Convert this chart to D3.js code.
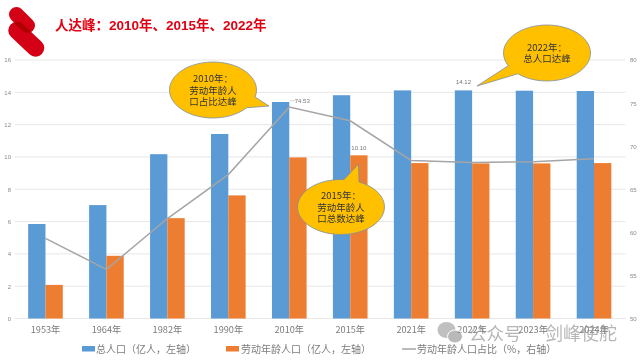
<!DOCTYPE html>
<html>
<head>
<meta charset="utf-8">
<script src="https://cdnjs.cloudflare.com/ajax/libs/d3/7.8.5/d3.min.js"></script>
<style>
  html, body { margin: 0; padding: 0; background: #fff; }
  svg { display: block; }
  text { font-family: "Noto Sans CJK SC", "Noto Sans", sans-serif; }
</style>
</head>
<body>
<div id="chart"></div>
<script>
const years = ['1953年', '1964年', '1982年', '1990年', '2010年', '2015年', '2021年', '2022年', '2023年', '2024年']
const totalPop = [5.85, 7.02, 10.17, 11.42, 13.40, 13.82, 14.12, 14.12, 14.10, 14.08]
const workPop = [2.08, 3.88, 6.21, 7.62, 9.97, 10.10, 9.62, 9.60, 9.60, 9.62]
const workShare = [59.3, 55.7, 61.6, 66.7, 74.53, 72.95, 68.35, 68.1, 68.2, 68.55]
const leftTicks = [0, 2, 4, 6, 8, 10, 12, 14, 16]
const rightTicks = [50, 55, 60, 65, 70, 75, 80]
const legendLabels = ['总人口（亿人，左轴）', '劳动年龄人口（亿人，左轴）', '劳动年龄人口占比（%，右轴）']

const width = 640, height = 360
const plotLeft = 15, plotRight = 624.5, plotTop = 60, plotBottom = 318.5

const svg = d3.select('#chart').append('svg').attr('width', width).attr('height', height)

const x = d3.scaleBand().domain(years).range([plotLeft, plotRight]).paddingInner(0.432).paddingOuter(0.216)
const xSeries = d3.scaleBand().domain(['total', 'work']).range([0, x.bandwidth()])
const y = d3.scaleLinear().domain([0, 16]).range([plotBottom, plotTop])
const yShare = d3.scaleLinear().domain([50, 80]).range([plotBottom, plotTop])

// 网格线
svg.append('g').selectAll('line').data(leftTicks).enter().append('line')
  .attr('x1', plotLeft).attr('x2', plotRight + 1)
  .attr('y1', d => y(d)).attr('y2', d => y(d))
  .attr('stroke', '#e7e7e7').attr('stroke-width', 1)

// 坐标轴
const axisLeft = svg.append('g').attr('transform', 'translate(11,0)')
  .call(d3.axisLeft(y).tickValues(leftTicks).tickSize(0).tickPadding(0))
const axisRight = svg.append('g').attr('transform', 'translate(630,0)')
  .call(d3.axisRight(yShare).tickValues(rightTicks).tickSize(0).tickPadding(0))
const axisBottom = svg.append('g').attr('transform', `translate(0,${plotBottom})`)
  .call(d3.axisBottom(x).tickSize(0).tickPadding(8))
axisLeft.select('.domain').remove()
axisRight.select('.domain').remove()
axisBottom.select('.domain').remove()
axisLeft.selectAll('text').attr('font-size', 6).attr('fill', '#8a8a8a').style('font-family', 'Liberation Sans')
axisRight.selectAll('text').attr('font-size', 6).attr('fill', '#8a8a8a').style('font-family', 'Liberation Sans')
axisBottom.selectAll('text').attr('font-size', 9.2).attr('fill', '#7b7b7b')

// 柱子
const bars = svg.append('g')
bars.selectAll('.total').data(totalPop).enter().append('rect')
  .attr('class', 'total')
  .attr('x', (d, i) => x(years[i]) + xSeries('total'))
  .attr('y', d => y(d))
  .attr('width', xSeries.bandwidth())
  .attr('height', d => plotBottom - y(d))
  .attr('fill', '#5b9bd5')
bars.selectAll('.work').data(workPop).enter().append('rect')
  .attr('class', 'work')
  .attr('x', (d, i) => x(years[i]) + xSeries('work'))
  .attr('y', d => y(d))
  .attr('width', xSeries.bandwidth())
  .attr('height', d => plotBottom - y(d))
  .attr('fill', '#ed7d31')

// 折线
const line = d3.line()
  .x((d, i) => x(years[i]) + x.bandwidth() / 2)
  .y(d => yShare(d))
svg.append('path').datum(workShare)
  .attr('d', line)
  .attr('fill', 'none')
  .attr('stroke', '#a5a5a5')
  .attr('stroke-width', 1.5)

// 数据标签
function dataLabel(str, px, py){
  svg.append('text').attr('x', px).attr('y', py)
    .attr('text-anchor', 'middle')
    .attr('font-size', 6).attr('fill', '#777')
    .style('font-family', 'Liberation Sans')
    .text(str)
}
const peakX = x('2010年') + x.bandwidth() / 2
svg.append('line')
  .attr('x1', peakX + 1).attr('x2', peakX + 6)
  .attr('y1', yShare(workShare[4]) - 6.5).attr('y2', yShare(workShare[4]) - 6.5)
  .attr('stroke', '#c8c8c8').attr('stroke-width', 0.7)
dataLabel(workShare[4].toFixed(2), peakX + 13, yShare(workShare[4]) - 4)
dataLabel(workPop[5].toFixed(2), x('2015年') + xSeries('work') + xSeries.bandwidth() / 2, y(workPop[5]) - 5)
dataLabel(totalPop[7].toFixed(2), x('2022年') + xSeries.bandwidth() / 2, y(totalPop[7]) - 6)

// 标注气泡，尾巴两端用椭圆上的角度来定
function callout(cx, cy, rx, ry, angA, tip, angB, lines){
  const onEllipse = deg => {
    const r = deg * Math.PI / 180
    return [cx + rx * Math.cos(r), cy + ry * Math.sin(r)]
  }
  const a = onEllipse(angA), b = onEllipse(angB)
  svg.append('path')
    .attr('d', `M${a} L${tip} L${b} A${rx},${ry} 0 1 1 ${a} Z`)
    .attr('fill', '#ffc000')
    .attr('stroke', '#7f8f9f')
    .attr('stroke-width', 0.8)
  lines.forEach((t, i) => {
    svg.append('text')
      .attr('x', cx).attr('y', cy + (i - (lines.length - 1) / 2) * 11.4 + 3.5)
      .attr('text-anchor', 'middle')
      .attr('font-size', 9.5).attr('fill', '#333')
      .text(t)
  })
}
callout(213, 90, 43.5, 28, 14.5, [269, 106], 39.5, ['2010年：', '劳动年龄人', '口占比达峰'])
callout(341, 207, 43.5, 27.5, -86, [358.5, 164], -65.5, ['2015年：', '劳动年龄人', '口总数达峰'])
callout(547, 53, 43.5, 28, 132, [477, 86], 153, ['2022年：', '总人口达峰'])

// 图例
const legendY = 349
svg.append('rect').attr('x', 82).attr('y', legendY - 3).attr('width', 13).attr('height', 5.5).attr('fill', '#5b9bd5')
svg.append('rect').attr('x', 226).attr('y', legendY - 3).attr('width', 13).attr('height', 5.5).attr('fill', '#ed7d31')
svg.append('line').attr('x1', 402).attr('x2', 416).attr('y1', legendY).attr('y2', legendY)
  .attr('stroke', '#a5a5a5').attr('stroke-width', 1.5)
const legendX = [96, 241, 417]
legendLabels.forEach((t, i) => {
  svg.append('text').attr('x', legendX[i]).attr('y', legendY + 3.5)
    .attr('font-size', 10).attr('fill', '#7b7b7b').text(t)
})

// 标题和logo
const logo = svg.append('g').attr('stroke-linecap', 'round').attr('fill', 'none')
logo.append('line').attr('x1', 16.5).attr('y1', 14.5).attr('x2', 27.5).attr('y2', 25.5)
  .attr('stroke', '#d40016').attr('stroke-width', 15)
logo.append('line').attr('x1', 17).attr('y1', 30.5).attr('x2', 35.5).attr('y2', 48)
  .attr('stroke', '#d40016').attr('stroke-width', 17.5)
  .style('mix-blend-mode', 'multiply')
svg.append('text').attr('x', 55).attr('y', 30)
  .attr('font-size', 13.5).attr('font-weight', 700).attr('fill', '#e00012')
  .style('font-family', '"Liberation Sans", "Noto Sans CJK SC"')
  .text('人达峰：2010年、2015年、2022年')

// 水印
const mark = svg.append('g').attr('opacity', 0.62)
mark.append('ellipse').attr('cx', 446.5).attr('cy', 330).attr('rx', 9).attr('ry', 8).attr('fill', '#9b9b9b')
mark.append('ellipse').attr('cx', 455).attr('cy', 336.5).attr('rx', 7.5).attr('ry', 6.5).attr('fill', '#8f8f8f')
  .attr('stroke', '#fff').attr('stroke-width', 1)
mark.append('text').attr('x', 469).attr('y', 340).attr('font-size', 17.5).attr('fill', '#8a8a8a').text('公众号')
mark.append('text').attr('x', 545).attr('y', 340).attr('font-size', 18).attr('fill', '#8a8a8a').text('剑峰使舵')
</script>
</body>
</html>
